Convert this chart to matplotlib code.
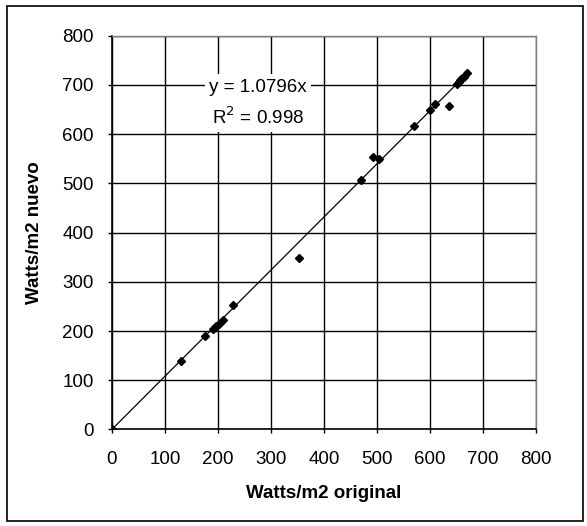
import numpy as np
import matplotlib
matplotlib.use("Agg")
import matplotlib.pyplot as plt
from matplotlib.patches import Rectangle

plt.rcParams['font.family'] = ['Liberation Sans', 'DejaVu Sans']

# radiacion original vs nueva (W/m2)
original = [0, 131, 176, 191, 197, 202, 209, 229, 352, 469, 492, 504,
            569, 599, 609, 635, 651, 654, 657, 660, 664, 670]
nuevo = [0, 139, 189, 204, 210, 214, 222, 252, 349, 506, 553, 550,
         617, 650, 661, 657, 701, 705, 709, 713, 717, 725]
pendiente = 1.0796
r2 = 0.998
ticks = list(range(0, 801, 100))

fig = plt.figure(figsize=(5.87, 5.26), dpi=100)
ax = fig.add_axes([0.1905, 0.1835, 0.723, 0.7487])

# linea de tendencia
xt = np.array([0, max(original)])
ax.plot(xt, pendiente * xt, color='black', lw=0.9, zorder=3)
ax.plot(original, nuevo, 'D', color='black', markersize=4.5, zorder=4)

ax.set_xlim(0, 800)
ax.set_ylim(0, 800)
ax.set_xticks(ticks)
ax.set_yticks(ticks)
ax.grid(True, color='black', lw=1, zorder=0)
ax.set_axisbelow(True)
ax.tick_params(direction='out', length=3, width=1, labelsize=13.5)
ax.tick_params(axis='x', pad=12.5)
ax.tick_params(axis='y', pad=10)

for s in ['left', 'bottom']:
    ax.spines[s].set_color('black')
    ax.spines[s].set_linewidth(1.2)
for s in ['top', 'right']:
    ax.spines[s].set_color('#808080')
    ax.spines[s].set_linewidth(1)

ax.set_xlabel('Watts/m2 original', fontsize=13.5, fontweight='bold', va='center')
ax.set_ylabel('Watts/m2 nuevo', fontsize=13.5, fontweight='bold', va='center')
ax.xaxis.set_label_coords(0.5, -0.163)
ax.yaxis.set_label_coords(-0.183, 0.5)

ax.text(275, 663, 'y = 1.0796x\nR$^2$ = 0.998', ha='center', va='center',
        fontsize=13.5, linespacing=1.6, zorder=5,
        bbox=dict(facecolor='white', edgecolor='none', pad=3))

# marco exterior
fig.patches.append(Rectangle((7 / 587, 5 / 526), 576 / 587, 515 / 526,
                             transform=fig.transFigure, fill=False,
                             edgecolor='black', lw=1.2))

fig.savefig('out.png', dpi=100)
